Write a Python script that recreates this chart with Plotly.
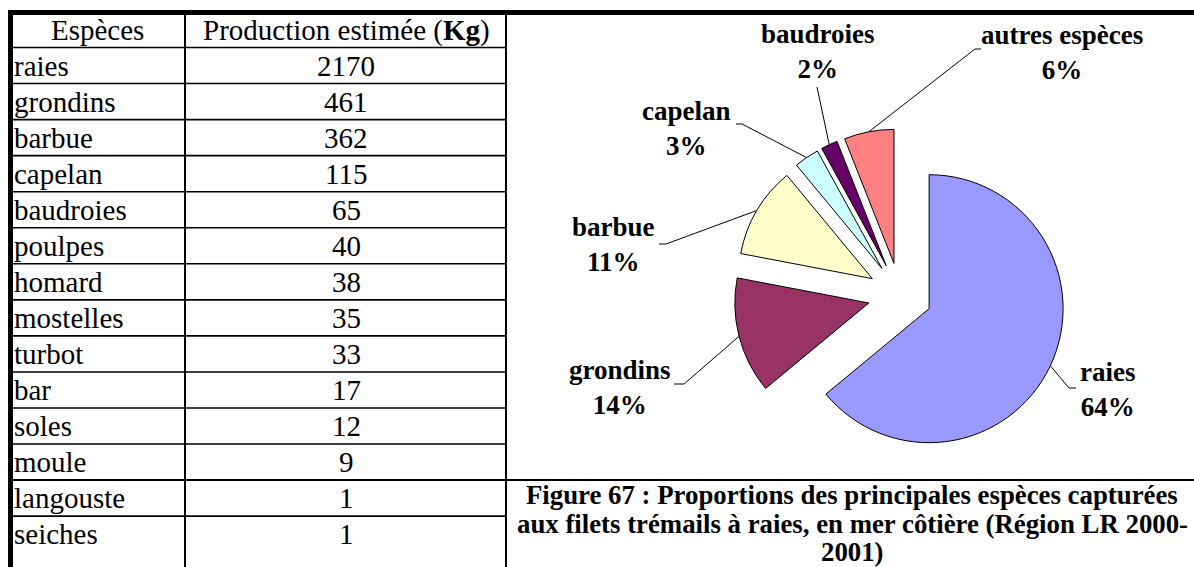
import math
import plotly.graph_objects as go

W, H = 1194, 567

# ---- table data ----
especes = ["raies", "grondins", "barbue", "capelan", "baudroies", "poulpes", "homard",
           "mostelles", "turbot", "bar", "soles", "moule", "langouste", "seiches"]
production_kg = [2170, 461, 362, 115, 65, 40, 38, 35, 33, 17, 12, 9, 1, 1]
table_headers = ["Espèces", "Production estimée (<b>Kg</b>)"]

# ---- pie data (percent of catch) ----
pie_labels = ["raies", "grondins", "barbue", "capelan", "baudroies", "autres espèces"]
pie_percent = [64, 14, 11, 3, 2, 6]
pie_colors = ["#9999FF", "#993366", "#FFFFCC", "#CCFFFF", "#660066", "#FF8080"]

caption_lines = [
    "Figure 67 : Proportions des principales espèces capturées",
    "aux filets trémails à raies, en mer côtière (Région LR 2000-",
    "2001)",
]

# ---- layout geometry (pixels, y downward) ----
LEFT_X, TOP_Y = 10.5, 12.5
COL_X, TABLE_R = 185, 506
HEADER_B, ROW_H = 47.5, 36.05
SERIF = "Liberation Serif, Times New Roman, serif"

# pie placement
CX, CY, R, PULL = 900, 295, 134, 0.24

# label placement: centre of the two-line label, then leader elbow points
label_pos = {
    "raies": ((1107, 389), [(1069, 388), (1076, 388)]),
    "grondins": ((620, 387), [(684, 384), (674, 384)]),
    "barbue": ((613, 244), [(666, 244), (659, 244)]),
    "capelan": ((686, 128), [(742, 124), (736, 124)]),
    "baudroies": ((818, 51), [(817, 87)]),
    "autres espèces": ((1062, 52), [(975, 49), (981, 49)]),
}

fig = go.Figure()

# pie, all slices exploded by the same amount
half = R * (1 + PULL)
fig.add_trace(go.Pie(
    labels=pie_labels, values=pie_percent, sort=False, direction="clockwise",
    rotation=0, pull=[PULL] * len(pie_percent),
    marker=dict(colors=pie_colors, line=dict(color="black", width=1)),
    textinfo="none", hoverinfo="skip", showlegend=False,
    domain=dict(x=[(CX - half) / W, (CX + half) / W],
                y=[1 - (CY + half) / H, 1 - (CY - half) / H]),
))

# leader lines from the middle of each slice's arc
total = sum(pie_percent)
start = 0.0
for name, v in zip(pie_labels, pie_percent):
    mid = math.radians((start + v / 2) / total * 360)
    dx, dy = math.sin(mid), -math.cos(mid)
    vx, vy = CX + PULL * R * dx, CY + PULL * R * dy
    tip = (vx + R * dx, vy + R * dy)
    start += v
    (lx, ly), elbows = label_pos[name]
    pts = [tip] + elbows
    fig.add_trace(go.Scatter(
        x=[p[0] for p in pts], y=[p[1] for p in pts], mode="lines",
        line=dict(color="black", width=1), hoverinfo="skip", showlegend=False,
    ))
    fig.add_annotation(
        x=lx, y=ly, xref="x", yref="y", showarrow=False,
        text=f"<b>{name}<br>{v}%</b>", xanchor="center", yanchor="middle",
        font=dict(family=SERIF, size=27, color="black"),
    )

# table text
fig.add_annotation(x=97, y=(TOP_Y + HEADER_B) / 2, xref="x", yref="y", showarrow=False,
                   text=table_headers[0], font=dict(family=SERIF, size=29, color="black"))
fig.add_annotation(x=346, y=(TOP_Y + HEADER_B) / 2, xref="x", yref="y", showarrow=False,
                   text=table_headers[1], font=dict(family=SERIF, size=29, color="black"))
for i, (sp, kg) in enumerate(zip(especes, production_kg)):
    yc = HEADER_B + (i + 0.5) * ROW_H
    fig.add_annotation(x=12, y=yc, xref="x", yref="y", showarrow=False, text=sp,
                       xanchor="left", font=dict(family=SERIF, size=29, color="black"))
    fig.add_annotation(x=346, y=yc, xref="x", yref="y", showarrow=False, text=str(kg),
                       font=dict(family=SERIF, size=29, color="black"))

# caption
for k, line in enumerate(caption_lines):
    fig.add_annotation(x=852, y=495 + k * 28.5, xref="x", yref="y", showarrow=False,
                       text=f"<b>{line}</b>", font=dict(family=SERIF, size=26.8, color="black"))

# table rules
shapes = []
def hline(y, x0, x1, w):
    shapes.append(dict(type="line", xref="x", yref="y", x0=x0, x1=x1, y0=y, y1=y,
                       line=dict(color="black", width=w)))
def vline(x, y0, y1, w):
    shapes.append(dict(type="line", xref="x", yref="y", x0=x, x1=x, y0=y0, y1=y1,
                       line=dict(color="black", width=w)))

n_rows = len(especes)
for i in range(n_rows):
    y = HEADER_B + i * ROW_H
    if i == n_rows - 2:
        hline(y, LEFT_X, W, 2)  # also the top rule of the caption
    else:
        hline(y, LEFT_X, TABLE_R, 1.6)
vline(COL_X, TOP_Y, H, 2)
vline(TABLE_R, TOP_Y, H, 2)
hline(TOP_Y, 8, W, 5)
vline(LEFT_X, 10, H, 5)

fig.update_layout(
    width=W, height=H, margin=dict(l=0, r=0, t=0, b=0),
    paper_bgcolor="white", plot_bgcolor="white",
    xaxis=dict(range=[0, W], visible=False, fixedrange=True),
    yaxis=dict(range=[H, 0], visible=False, fixedrange=True),
    shapes=shapes, font=dict(family=SERIF, color="black"),
)

fig.write_html("out.html", config={"displayModeBar": False})
